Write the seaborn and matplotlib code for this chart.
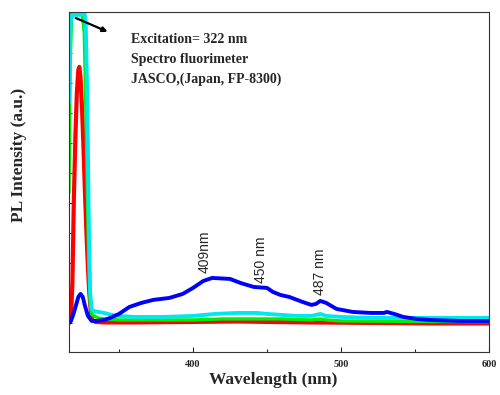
import pandas as pd
import seaborn as sns
import matplotlib.pyplot as plt

# PL spectra (intensity in arbitrary units)
wl_red = [316.2, 317.5, 318.5, 319.5, 320.5, 321.5, 322.5, 323.2, 324, 325, 326, 327, 328,
          329, 330, 331, 332, 334, 340, 360, 400, 430, 450, 480, 520, 560, 600]
pl_red = [0, 5, 40, 125, 185, 230, 253, 256, 245, 215, 175, 130, 90,
          55, 28, 10, 3, 1, 0.5, 0.5, 1, 1.5, 1, 0.5, 0, -0.5, -0.5]

wl_green = [316.2, 317, 318, 320, 323, 325, 326.5, 327.5, 328.5, 329.5, 330.5, 331.5, 333,
            336, 340, 350, 370, 400, 420, 440, 460, 480, 486, 490, 500, 550, 600]
pl_green = [130, 260, 310, 312, 312, 312, 290, 220, 140, 60, 20, 9, 7,
            5, 4, 3, 3, 3, 4, 4, 4, 3, 4, 3, 2, 1.5, 1.5]

wl_cyan = [316.2, 317.2, 318.5, 320, 322, 324, 325.5, 326.5, 327.5, 328.5, 329.5, 330.5, 331.5,
           333, 336, 340, 345, 350, 360, 380, 400, 415, 430, 443, 450, 460, 470, 480, 486,
           490, 500, 520, 550, 580, 600]
pl_cyan = [220, 300, 308, 308, 308, 308, 310, 312, 300, 230, 110, 30, 14,
           12, 11, 10, 8, 7, 6, 6, 7, 9, 10, 10, 9, 8, 7, 7, 9,
           7, 6, 5, 5, 5, 5]

wl_blue = [316.2, 317.5, 319, 321, 322.5, 324, 325.5, 327, 329, 331.5, 335, 340, 344, 350,
           357, 365, 373, 384, 393, 400, 407, 413, 425, 432, 441, 450, 454, 459, 465, 474,
           480, 483, 486, 490, 497, 508, 520, 529, 531, 536, 542, 551, 560, 580, 600]
pl_blue = [0, 2, 8, 18, 26, 29, 26, 17, 7, 2, 2, 3, 5, 9,
           16, 20, 23, 25, 29, 35, 42, 45, 44, 40, 36, 35, 31, 28, 26, 21,
           18, 19, 22, 20, 14, 11, 10, 10, 11, 9, 6, 4, 3, 2, 2]

peak_pos = [408, 446, 486]
peak_txt = ['409nm', '450 nm', '487 nm']
peak_base = [50, 40, 28]

info_lines = ['Excitation= 322 nm', 'Spectro fluorimeter', 'JASCO,(Japan, FP-8300)']

frames = []
for name, x, y in [('red', wl_red, pl_red), ('green', wl_green, pl_green),
                   ('cyan', wl_cyan, pl_cyan), ('blue', wl_blue, pl_blue)]:
    frames.append(pd.DataFrame({'wavelength': x, 'intensity': y, 'sample': name}))
df = pd.concat(frames, ignore_index=True)

sns.set_style('ticks')
plt.rcParams['font.family'] = ['Liberation Serif', 'DejaVu Serif']

fig = plt.figure(figsize=(5, 3.95), dpi=100)
ax = fig.add_axes([0.138, 0.109, 0.84, 0.861])

colors = {'red': '#ff0000', 'green': '#00ee00', 'cyan': '#00e8ee', 'blue': '#0000ff'}
widths = {'red': 3.0, 'green': 2.4, 'cyan': 2.8, 'blue': 2.8}
for name in ['red', 'green', 'cyan', 'blue']:
    sns.lineplot(data=df[df['sample'] == name], x='wavelength', y='intensity',
                 color=colors[name], lw=widths[name], sort=False, estimator=None, ax=ax)

ax.set_xlim(316.2, 600)
ax.set_ylim(-29, 311)

ax.set_xticks([400, 500, 600])
ax.set_xticks([350, 450, 550], minor=True)
ax.set_yticks(range(0, 300, 30))
ax.set_yticklabels([])
ax.tick_params(axis='x', direction='in', length=3.5, width=0.8, pad=6,
               labelsize=7.5, top=False)
ax.tick_params(axis='x', which='minor', direction='in', length=2.5, width=0.8, top=False)
ax.tick_params(axis='y', direction='in', length=2.5, width=0.8, right=False)
for lab in ax.get_xticklabels():
    lab.set_fontweight('bold')

for s in ax.spines.values():
    s.set_color('#333333')
    s.set_linewidth(0.8)

ax.set_xlabel('Wavelength (nm)', fontsize=12.5, fontweight='bold')
ax.xaxis.set_label_coords(0.487, -0.058)
ax.set_ylabel('PL Intensity (a.u.)', fontsize=12.5, fontweight='bold')
ax.yaxis.set_label_coords(-0.1, 0.58)

for x, t, b in zip(peak_pos, peak_txt, peak_base):
    ax.text(x, b, t, rotation=90, ha='center', va='bottom', fontsize=10,
            family=['Liberation Sans', 'DejaVu Sans'])

for i, t in enumerate(info_lines):
    ax.text(357.9, 280 - 20 * i, t, ha='left', va='baseline', fontsize=10,
            fontweight='bold')

ax.annotate('', xy=(344, 290), xytext=(319, 306),
            arrowprops=dict(arrowstyle='-|>', color='black', lw=1.6, mutation_scale=7))

plt.savefig('out.png', dpi=100)
